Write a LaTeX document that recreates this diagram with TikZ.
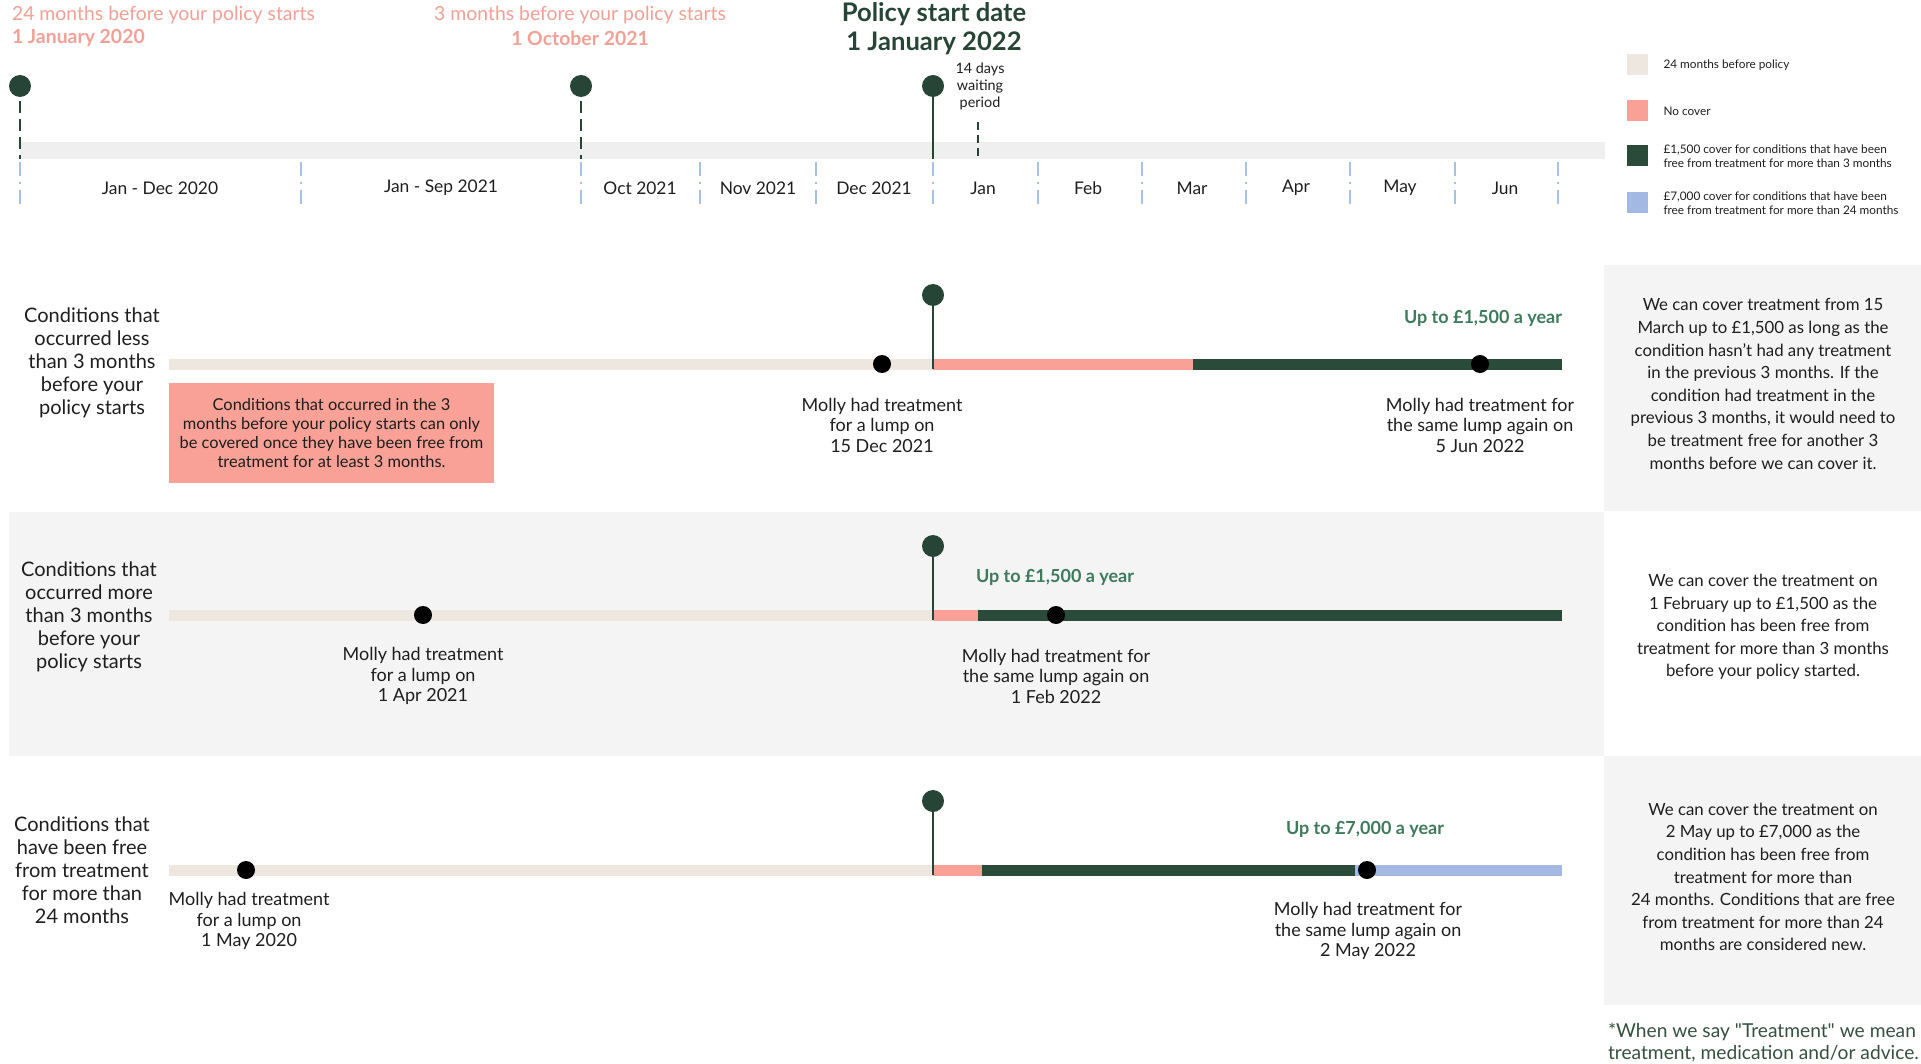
\documentclass[tikz,border=0pt]{standalone}
\usepackage{fontspec}
\setmainfont{Lato}
\newfontfamily\notefont{Lato}
\usetikzlibrary{positioning}
\definecolor{ink}{HTML}{1E1E1E}
\definecolor{pingreen}{HTML}{264537}
\definecolor{barbeige}{HTML}{EDE7E0}
\definecolor{barpink}{HTML}{F9A197}
\definecolor{bargreen}{HTML}{2A4A3A}
\definecolor{barblue}{HTML}{A3B8E3}
\definecolor{bandgrey}{HTML}{EFEFEF}
\definecolor{panelgrey}{HTML}{F4F4F4}
\definecolor{headpink}{HTML}{F1A095}
\definecolor{upgreen}{HTML}{3E7A5C}
\definecolor{tickblue}{HTML}{A8BFE6}
\definecolor{notegreen}{HTML}{34503F}

\begin{document}
\begin{tikzpicture}[x=0.5pt,y=-0.5pt,
  every node/.style={inner sep=0pt, outer sep=0pt},
  pinhead/.style={circle, fill=pingreen, minimum size=11pt},
  blackdot/.style={circle, fill=black, minimum size=9pt},
  pinstem/.style={draw=pingreen, line width=1.2pt},
  tlbar/.style={line width=5.5pt},
  monthtick/.style={draw=tickblue, line width=0.9pt, dash pattern=on 7pt off 3pt on 1pt off 3pt},
  gdash/.style={draw=pingreen, line width=1.2pt, dash pattern=on 6pt off 3pt},
  monthlabel/.style={font=\fontsize{8.7}{10}\selectfont, text=ink},
  rowlabel/.style={align=center, font=\fontsize{10}{11.5}\selectfont, text=ink},
  mollytext/.style={align=center, font=\fontsize{9}{10.25}\selectfont, text=ink},
  uptext/.style={font=\fontsize{9}{10}\selectfont\bfseries, text=upgreen},
  paneltext/.style={align=center, font=\fontsize{8.4}{11.3}\selectfont, text=ink},
  legtext/.style={align=left, font=\fontsize{5.9}{6.8}\selectfont, text=ink},
  legswatch/.style={minimum width=10.5pt, minimum height=10.5pt},
  headtext/.style={font=\fontsize{9.7}{11}\selectfont, text=headpink},
  startdate/.style={font=\fontsize{12.8}{14}\selectfont\bfseries, text=pingreen},
]
\useasboundingbox (0,0) rectangle (1921,1064);

% backgrounds
\fill[panelgrey] (1604,265) rectangle (1921,511);
\fill[panelgrey] (9,512) rectangle (1604,756);
\fill[panelgrey] (1604,756) rectangle (1921,1005);

% headings
\node[headtext, anchor=west] (h24) at (12,15) {24 months before your policy starts};
\node[headtext, anchor=west, font=\fontsize{9.7}{11}\selectfont\bfseries] (h24d) at (12,38) {1 January 2020};
\node[headtext] (h3) at (580,15) {3 months before your policy starts};
\node[headtext, font=\fontsize{9.7}{11}\selectfont\bfseries] (h3d) at (580,38) {1 October 2021};
\node[startdate] (hs) at (934,14) {Policy start date};
\node[startdate] (hsd) at (934,43) {1 January 2022};

% top timeline
\fill[bandgrey] (20,142) rectangle (1605,159);
\draw[monthtick] (20,162) -- (20,206);
\draw[monthtick] (301,162) -- (301,206);
\draw[monthtick] (581,162) -- (581,206);
\draw[monthtick] (700,162) -- (700,206);
\draw[monthtick] (816,162) -- (816,206);
\draw[monthtick] (933,162) -- (933,206);
\draw[monthtick] (1038,162) -- (1038,206);
\draw[monthtick] (1142,162) -- (1142,206);
\draw[monthtick] (1246,162) -- (1246,206);
\draw[monthtick] (1350,162) -- (1350,206);
\draw[monthtick] (1455,162) -- (1455,206);
\draw[monthtick] (1558,162) -- (1558,206);

\node[monthlabel] (m1) at (160,188) {Jan - Dec 2020};
\node[monthlabel] (m2) at (441,188) {Jan - Sep 2021};
\node[monthlabel] (m3) at (640,188) {Oct 2021};
\node[monthlabel] (m4) at (758,188) {Nov 2021};
\node[monthlabel] (m5) at (874,188) {Dec 2021};
\node[monthlabel] (m6) at (983,188) {Jan};
\node[monthlabel] (m7) at (1088,188) {Feb};
\node[monthlabel] (m8) at (1192,188) {Mar};
\node[monthlabel] (m9) at (1296,188) {Apr};
\node[monthlabel] (m10) at (1400,188) {May};
\node[monthlabel] (m11) at (1505,188) {Jun};

\node[pinhead] (tp1) at (20,86) {};
\node[pinhead] (tp2) at (581,86) {};
\node[pinhead] (tp3) at (933,86) {};
\coordinate (tb1) at (20,159);
\coordinate (tb2) at (581,159);
\coordinate (tb3) at (933,159);
\draw[gdash] ([yshift=-2pt]tp1.south) -- (tb1);
\draw[gdash] ([yshift=-2pt]tp2.south) -- (tb2);
\draw[pinstem] (tp3) -- (tb3);
\coordinate (wt) at (978,122);
\coordinate (wb) at (978,159);
\draw[gdash, dash pattern=on 4pt off 2.5pt] (wt) -- (wb);
\node[align=center, font=\fontsize{7.2}{8.5}\selectfont, text=ink] (wait) at (980,86) {14 days\\waiting\\period};

% legend
\node[legswatch, fill=barbeige] (sw1) at (1637,65) {};
\node[legswatch, fill=barpink] (sw2) at (1637,111) {};
\node[legswatch, fill=bargreen] (sw3) at (1637,156) {};
\node[legswatch, fill=barblue] (sw4) at (1637,203) {};
\node[legtext, right=8pt of sw1] (lg1) {24 months before policy};
\node[legtext, right=8pt of sw2] (lg2) {No cover};
\node[legtext, right=8pt of sw3] (lg3) {£1,500 cover for conditions that have been\\free from treatment for more than 3 months};
\node[legtext, right=8pt of sw4] (lg4) {£7,000 cover for conditions that have been\\free from treatment for more than 24 months};

% row 1
\node[rowlabel] (r1) at (92,363) {Conditions that\\occurred less\\than 3 months\\before your\\policy starts};
\coordinate (a0) at (169,364);
\coordinate (a1) at (933,364);
\coordinate (a2) at (1193,364);
\coordinate (a3) at (1562,364);
\draw[tlbar, barbeige] (a0) -- (a1);
\draw[tlbar, barpink] (a1) -- (a2);
\draw[tlbar, bargreen] (a2) -- (a3);
\node[pinhead] (ap) at (933,295) {};
\coordinate (as) at (933,369);
\draw[pinstem] (ap) -- (as);
\node[blackdot] (ad1) at (882,364) {};
\node[blackdot] (ad2) at (1480,364) {};
\node[mollytext] (at1) at (882,425) {Molly had treatment\\for a lump on\\15 Dec 2021};
\node[mollytext] (at2) at (1480,425) {Molly had treatment for\\the same lump again on\\5 Jun 2022};
\node[uptext, anchor=east] (au) at (1562,318) {Up to £1,500 a year};
\node[fill=barpink, minimum width=162.5pt, minimum height=50pt, align=center,
  font=\fontsize{8.2}{9.5}\selectfont, text=ink] (anote) at (331.5,433)
  {Conditions that occurred in the 3\\months before your policy starts can only\\be covered once they have been free from\\treatment for at least 3 months.};
\node[paneltext] (ap1) at (1763,384) {We can cover treatment from 15\\March up to £1,500 as long as the\\condition hasn't had any treatment\\in the previous 3 months. If the\\condition had treatment in the\\previous 3 months, it would need to\\be treatment free for another 3\\months before we can cover it.};

% row 2
\node[rowlabel] (r2) at (89,617) {Conditions that\\occurred more\\than 3 months\\before your\\policy starts};
\coordinate (b0) at (169,615);
\coordinate (b1) at (933,615);
\coordinate (b2) at (978,615);
\coordinate (b3) at (1562,615);
\draw[tlbar, barbeige] (b0) -- (b1);
\draw[tlbar, barpink] (b1) -- (b2);
\draw[tlbar, bargreen] (b2) -- (b3);
\node[pinhead] (bp) at (933,546) {};
\coordinate (bs) at (933,620);
\draw[pinstem] (bp) -- (bs);
\node[blackdot] (bd1) at (423,615) {};
\node[blackdot] (bd2) at (1056,615) {};
\node[mollytext] (bt1) at (423,676) {Molly had treatment\\for a lump on\\1 Apr 2021};
\node[mollytext] (bt2) at (1056,676) {Molly had treatment for\\the same lump again on\\1 Feb 2022};
\node[uptext, anchor=west] (bu) at (976,577) {Up to £1,500 a year};
\node[paneltext] (bp1) at (1763,627) {We can cover the treatment on\\1 February up to £1,500 as the\\condition has been free from\\treatment for more than 3 months\\before your policy started.};

% row 3
\node[rowlabel] (r3) at (82,870) {Conditions that\\have been free\\from treatment\\for more than\\24 months};
\coordinate (c0) at (169,870);
\coordinate (c1) at (933,870);
\coordinate (c2) at (982,870);
\coordinate (c3) at (1355,870);
\coordinate (c4) at (1562,870);
\draw[tlbar, barbeige] (c0) -- (c1);
\draw[tlbar, barpink] (c1) -- (c2);
\draw[tlbar, bargreen] (c2) -- (c3);
\draw[tlbar, barblue] (c3) -- (c4);
\node[pinhead] (cp) at (933,801) {};
\coordinate (cs) at (933,875);
\draw[pinstem] (cp) -- (cs);
\node[blackdot] (cd1) at (246,870) {};
\node[blackdot] (cd2) at (1367,870) {};
\node[mollytext] (ct1) at (249,921) {Molly had treatment\\for a lump on\\1 May 2020};
\node[mollytext] (ct2) at (1368,931) {Molly had treatment for\\the same lump again on\\2 May 2022};
\node[uptext] (cu) at (1365,829) {Up to £7,000 a year};
\node[paneltext] (cp1) at (1763,877) {We can cover the treatment on\\2 May up to £7,000 as the\\condition has been free from\\treatment for more than\\24 months. Conditions that are free\\from treatment for more than 24\\months are considered new.};

% footnote
\node[anchor=west, align=left, font=\notefont\fontsize{9.6}{11}\selectfont, text=notegreen] (fn) at (1608,1043) {*When we say "Treatment" we mean\\treatment, medication and/or advice.};
\end{tikzpicture}
\end{document}
